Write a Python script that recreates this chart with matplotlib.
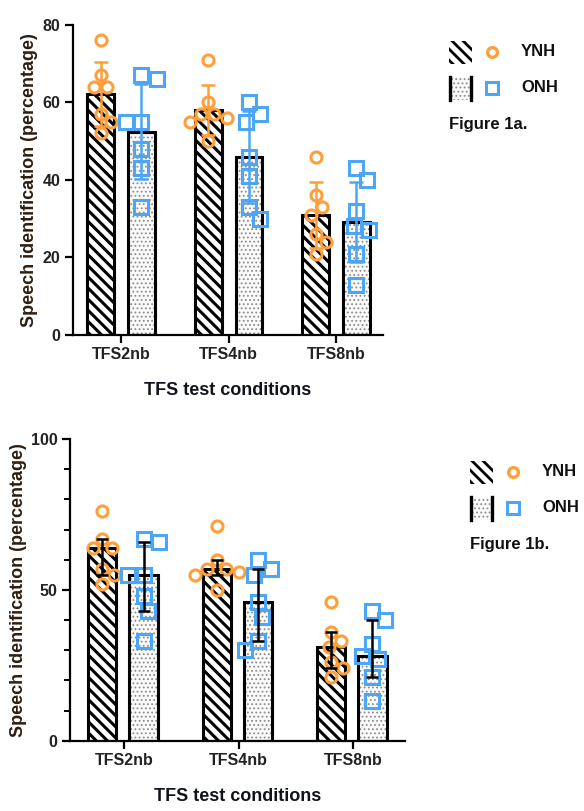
import numpy as np
import matplotlib
matplotlib.use("Agg")
import matplotlib.pyplot as plt
from matplotlib.patches import Rectangle

plt.rcParams['font.family'] = ['Liberation Sans', 'DejaVu Sans']
plt.rcParams['font.weight'] = 'bold'
plt.rcParams['axes.labelweight'] = 'bold'

# data (7 listeners per group)
conditions = ['TFS2nb', 'TFS4nb', 'TFS8nb']
ynh = [[76, 67, 64, 64, 57, 55, 52],
       [71, 60, 57, 57, 56, 55, 50],
       [46, 36, 33, 31, 26, 24, 21]]
onh = [[67, 66, 55, 55, 48, 43, 33],
       [60, 57, 55, 46, 41, 33, 30],
       [43, 40, 32, 28, 27, 21, 13]]
groups = ['YNH', 'ONH']
ylabel = 'Speech identification (percentage)'
xlabel = 'TFS test conditions'

ORANGE = '#FF9F3A'
BLUE = '#4DA6F5'
DPI = 100
W, H = 584, 811
STRIPES = '\\\\\\'


def swarm(vals, xc, ax, d):
    # beeswarm: each point goes to the nearest free x offset (in pixels)
    pos = ax.get_position()
    x0, x1 = ax.get_xlim()
    y0, y1 = ax.get_ylim()
    pxx = pos.width * W / (x1 - x0)
    pxy = pos.height * H / (y1 - y0)
    placed = []
    xs = []
    side = 1
    for v in vals:
        py = v * pxy
        blocked = []
        for a, b in placed:
            dy = abs(py - b)
            if dy < d:
                r = np.sqrt(d * d - dy * dy)
                blocked.append((a - r, a + r))
        cands = [0.0] + [e for iv in blocked for e in iv]
        cands = [c for c in cands if all(not (lo + 1e-6 < c < hi - 1e-6) for lo, hi in blocked)]
        best = min(abs(c) for c in cands)
        opts = [c for c in cands if abs(abs(c) - best) < 1e-6]
        px = max(opts) if side > 0 else min(opts)
        if px != 0:
            side = -side
        placed.append((px, py))
        xs.append(xc + px / pxx)
    return xs


def hatched_bar(ax, x, h, w, kind):
    if kind == 0:
        with plt.rc_context({'hatch.linewidth': 2.2}):
            ax.bar(x, h, w, color='white', edgecolor='black', hatch=STRIPES, linewidth=0, zorder=2)
    else:
        with plt.rc_context({'hatch.linewidth': 0.8}):
            ax.bar(x, h, w, color='#fafafa', edgecolor='#8c8c8c', hatch='....', linewidth=0, zorder=2)
    ax.bar(x, h, w, fill=False, edgecolor='black', linewidth=2.2, zorder=3)


def panel(rect, xlim, ymax, yticks, minor, offs, width, stat):
    ax = fig.add_axes(rect)
    ax.set_xlim(*xlim)
    ax.set_ylim(0, ymax)
    for s in ['top', 'right']:
        ax.spines[s].set_visible(False)
    for s in ['left', 'bottom']:
        ax.spines[s].set_linewidth(1.6)
    ax.set_yticks(yticks)
    if minor:
        ax.set_yticks(np.arange(0, ymax + 1, minor), minor=True)
        ax.tick_params(axis='y', which='minor', length=4, width=1.4)
    ax.set_xticks(range(len(conditions)))
    ax.set_xticklabels(conditions)
    ax.tick_params(axis='both', which='major', length=6, width=1.6, labelsize=11.5, pad=3,
                   labelcolor='#222222')
    ax.set_ylabel(ylabel, fontsize=13, color='#2e1e10', labelpad=3)
    ax.set_xlabel(xlabel, fontsize=13, color='#10131c', labelpad=14)

    for gi, (data, col, mk, ms) in enumerate([(ynh, ORANGE, 'o', 8), (onh, BLUE, 's', 9.5)]):
        for ci, vals in enumerate(data):
            v = np.array(vals, dtype=float)
            xc = ci + offs[gi]
            if stat == 'mean':
                h = v.mean()
                sd = v.std(ddof=1)
                lo, hi = h - sd, h + sd
                ecol, cap = col, 5
            else:
                lo, h, hi = np.percentile(v, [25, 50, 75], method='weibull')
                ecol, cap = 'black', 4
            hatched_bar(ax, xc, h, width, gi)
            xs = swarm(vals, xc, ax, ms * 1.4 * DPI / 72 * 0.85)
            ax.plot(xs, vals, ls='none', marker=mk, ms=ms, mfc='none', mec=col, mew=2.2, zorder=4)
            ax.errorbar(xc, h, yerr=[[h - lo], [hi - h]], fmt='none', ecolor=ecol,
                        elinewidth=1.8, capsize=cap, capthick=1.8, zorder=5)
    return ax


fig = plt.figure(figsize=(W / DPI, H / DPI), dpi=DPI)

ax1 = panel([73 / W, 1 - 335 / H, 310 / W, 310 / H], (-0.447, 2.437), 80,
            [0, 20, 40, 60, 80], None, (-0.19, 0.19), 0.25, 'mean')
ax2 = panel([70 / W, 1 - 740.7 / H, 335 / W, 301.7 / H], (-0.472, 2.454), 100,
            [0, 50, 100], 10, (-0.19, 0.17), 0.245, 'median')

# legends drawn in figure pixel space
lg = fig.add_axes([0, 0, 1, 1], zorder=10)
lg.set_xlim(0, W)
lg.set_ylim(H, 0)
lg.axis('off')


def legend_block(x, y, tag):
    dy = 36
    with plt.rc_context({'hatch.linewidth': 2.0}):
        lg.add_patch(Rectangle((x, y - 11), 23, 23, facecolor='white', edgecolor='black',
                               hatch=STRIPES, linewidth=0))
    with plt.rc_context({'hatch.linewidth': 0.8}):
        lg.add_patch(Rectangle((x, y + dy - 11), 23, 23, facecolor='#fafafa', edgecolor='#8c8c8c',
                               hatch='....', linewidth=0))
    lg.plot([x + 1, x + 1], [y + dy - 11, y + dy + 12], color='black', lw=2.4)
    lg.plot([x + 22, x + 22], [y + dy - 11, y + dy + 12], color='black', lw=2.4)
    lg.plot([x + 43], [y], marker='o', ms=7, mfc='none', mec=ORANGE, mew=2.4)
    lg.plot([x + 43], [y + dy], marker='s', ms=9, mfc='none', mec=BLUE, mew=2.2)
    lg.text(x + 72, y, groups[0], fontsize=12, va='center', ha='left', color='#111111')
    lg.text(x + 72, y + dy, groups[1], fontsize=12, va='center', ha='left', color='#111111')
    lg.text(x, y + dy + 36, tag, fontsize=12, va='center', ha='left', color='#111111')


legend_block(449, 52, 'Figure 1a.')
legend_block(470, 472, 'Figure 1b.')

fig.savefig('out.png', dpi=DPI)
